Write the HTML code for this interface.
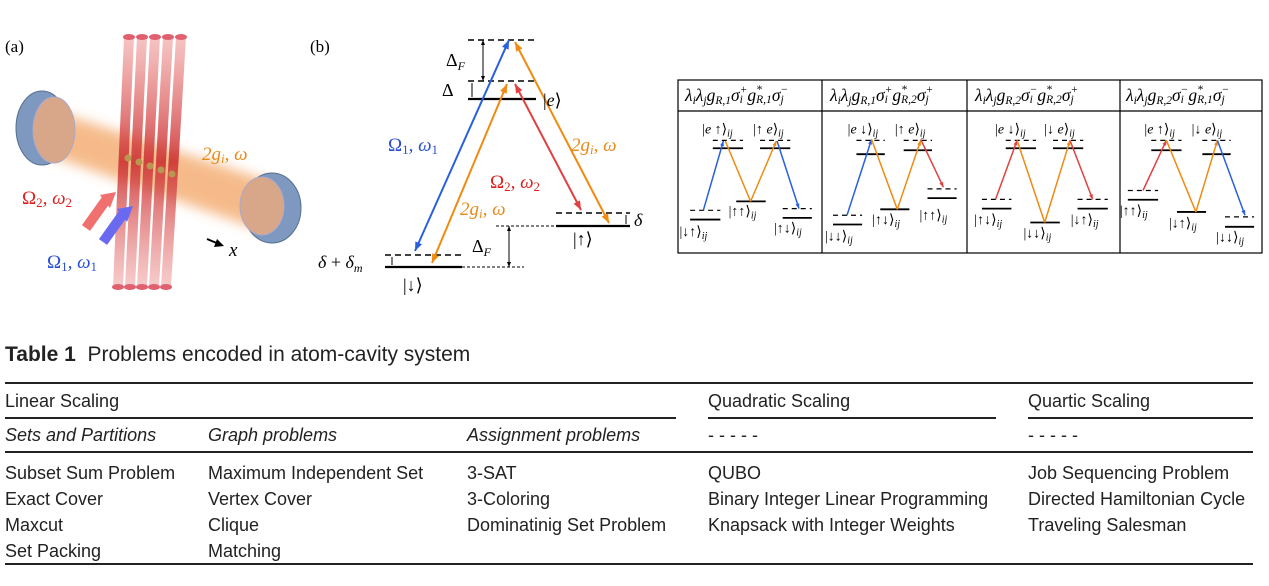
<!DOCTYPE html>
<html><head><meta charset="utf-8"><style>
body{margin:0;width:1269px;height:586px;background:#fff;overflow:hidden;position:relative;font-family:"Liberation Sans",sans-serif;}
.t{position:absolute;font-size:18px;color:#222;white-space:nowrap;line-height:1;}
.i{font-style:italic;}
.r{position:absolute;height:2px;background:#222;}
svg{position:absolute;left:0;top:0;}
.m{font-family:"Liberation Serif","DejaVu Serif",serif;font-style:italic;}
.h{position:absolute;top:87px;font-family:"Liberation Serif",serif;font-style:italic;font-size:17.5px;white-space:nowrap;line-height:1;color:#000;}
.h sub{font-size:11.5px;vertical-align:-3px;}
.ss{display:inline-block;vertical-align:middle;line-height:10px;font-size:11.5px;margin-top:-3px;}
.ss b{display:block;font-weight:normal;}
</style></head><body>
<svg id="s" width="1269" height="330" viewBox="0 0 1269 330">
<defs>
<linearGradient id="tube" x1="0" y1="0" x2="0" y2="1"><stop offset="0" stop-color="#e88" stop-opacity=".5"/><stop offset=".5" stop-color="#c33" stop-opacity=".9"/><stop offset="1" stop-color="#e99" stop-opacity=".5"/></linearGradient>
<filter id="bl"><feGaussianBlur stdDeviation="6"/></filter>
</defs>
<text x="5" y="52" font-family="Liberation Serif" font-size="17">(a)</text>
<text x="310" y="52" font-family="Liberation Serif" font-size="17">(b)</text>
<polygon points="45,108 272,182 266,232 40,152" fill="#f3a463" opacity=".75" filter="url(#bl)"/>
<g id="tubes"></g>
<ellipse cx="42" cy="128" rx="26" ry="37" fill="#7e98bf" stroke="#56708f"/>
<ellipse cx="54" cy="130" rx="21" ry="33" fill="#d8a689" stroke="#aac"/>
<ellipse cx="272" cy="208" rx="29" ry="35" fill="#7e98bf" stroke="#56708f"/>
<ellipse cx="262" cy="206" rx="22" ry="29" fill="#d8a689" stroke="#aac"/>
<line x1="86" y1="228" x2="106" y2="200" stroke="#f07070" stroke-width="10"/><polygon points="100,195 116,192 110,208" fill="#f07070"/>
<line x1="103" y1="242" x2="123" y2="214" stroke="#6a6af0" stroke-width="10"/><polygon points="117,209 133,206 127,222" fill="#6a6af0"/>
<line x1="207" y1="239" x2="219" y2="244" stroke="#000" stroke-width="2"/><polygon points="224,246 214,247 217,239" fill="#000"/>
<text x="229" y="256" class="m" font-size="19">x</text>
<text x="202" y="160" class="m" font-size="19" fill="#e88a1a">2g<tspan font-size="13" dy="3">i</tspan><tspan dy="-3">, ω</tspan></text>
<text x="22" y="204" class="m" font-size="19" fill="#e02020"><tspan font-style="normal">Ω</tspan><tspan font-size="13" dy="3" font-style="normal">2</tspan><tspan dy="-3">, ω</tspan><tspan font-size="13" dy="3" font-style="normal">2</tspan></text>
<text x="47" y="268" class="m" font-size="19" fill="#2a4fd6"><tspan font-style="normal">Ω</tspan><tspan font-size="13" dy="3" font-style="normal">1</tspan><tspan dy="-3">, ω</tspan><tspan font-size="13" dy="3" font-style="normal">1</tspan></text>
<g stroke="#000" stroke-width="1.5" fill="none">
<line x1="468" y1="40" x2="536" y2="40" stroke-dasharray="6,4"/>
<line x1="468" y1="81" x2="536" y2="81" stroke-dasharray="6,4"/>
<line x1="468" y1="99" x2="536" y2="99" stroke-width="2.2"/>
<line x1="385" y1="255" x2="462" y2="255" stroke-dasharray="6,4"/>
<line x1="385" y1="267" x2="462" y2="267" stroke-width="2.2"/>
<line x1="462" y1="267" x2="524" y2="267" stroke-dasharray="3,2" stroke-width="1"/>
<line x1="556" y1="213" x2="630" y2="213" stroke-dasharray="6,4"/>
<line x1="556" y1="226" x2="630" y2="226" stroke-width="2.2"/>
<line x1="496" y1="226" x2="556" y2="226" stroke-dasharray="3,2" stroke-width="1"/>
<line x1="483" y1="42" x2="483" y2="79" stroke-width="1"/>
<line x1="472" y1="83" x2="472" y2="97" stroke-width="1"/>
<line x1="509" y1="228" x2="509" y2="265" stroke-width="1"/>
<line x1="626" y1="215" x2="626" y2="224" stroke-width="1"/>
<line x1="392" y1="257" x2="392" y2="265" stroke-width="1"/>
</g>
<g id="arr"></g>
<text x="446" y="66" class="m" font-size="18"><tspan font-style="normal">Δ</tspan><tspan font-size="12" dy="4">F</tspan></text>
<text x="442" y="96" font-family="Liberation Serif" font-size="18">Δ</text>
<text x="543" y="106" class="m" font-size="18"><tspan font-style="normal">|</tspan>e<tspan font-style="normal">⟩</tspan></text>
<text x="318" y="268" class="m" font-size="18">δ <tspan font-style="normal">+</tspan> δ<tspan font-size="12" dy="4">m</tspan></text>
<text x="403" y="291" font-family="Liberation Serif" font-size="18">|↓⟩</text>
<text x="573" y="245" font-family="Liberation Serif" font-size="18">|↑⟩</text>
<text x="634" y="226" class="m" font-size="18">δ</text>
<text x="472" y="252" class="m" font-size="18"><tspan font-style="normal">Δ</tspan><tspan font-size="12" dy="4">F</tspan></text>
<text x="388" y="151" class="m" font-size="19" fill="#2a4fd6"><tspan font-style="normal">Ω</tspan><tspan font-size="13" dy="3" font-style="normal">1</tspan><tspan dy="-3">, ω</tspan><tspan font-size="13" dy="3" font-style="normal">1</tspan></text>
<text x="571" y="151" class="m" font-size="19" fill="#e88a1a">2g<tspan font-size="13" dy="3">i</tspan><tspan dy="-3">, ω</tspan></text>
<text x="490" y="188" class="m" font-size="19" fill="#e02020"><tspan font-style="normal">Ω</tspan><tspan font-size="13" dy="3" font-style="normal">2</tspan><tspan dy="-3">, ω</tspan><tspan font-size="13" dy="3" font-style="normal">2</tspan></text>
<text x="460" y="215" class="m" font-size="19" fill="#e88a1a">2g<tspan font-size="13" dy="3">i</tspan><tspan dy="-3">, ω</tspan></text>
<rect x="678" y="80" width="584" height="173" fill="none" stroke="#000" stroke-width="1.2"/>
<line x1="678" y1="111" x2="1262" y2="111" stroke="#000" stroke-width="1.2"/>
<line x1="822" y1="80" x2="822" y2="253" stroke="#000" stroke-width="1.2"/>
<line x1="967" y1="80" x2="967" y2="253" stroke="#000" stroke-width="1.2"/>
<line x1="1120" y1="80" x2="1120" y2="253" stroke="#000" stroke-width="1.2"/>
<g id="rt"></g>
</svg>

<div class="h" style="left:685px;">λ<sub>i</sub>λ<sub>j</sub>g<sub>R,1</sub>σ<span class="ss"><b>+</b><b>i</b></span>g<span class="ss"><b>*</b><b>R,1</b></span>σ<span class="ss"><b>−</b><b>j</b></span></div>
<div class="h" style="left:830px;">λ<sub>i</sub>λ<sub>j</sub>g<sub>R,1</sub>σ<span class="ss"><b>+</b><b>i</b></span>g<span class="ss"><b>*</b><b>R,2</b></span>σ<span class="ss"><b>+</b><b>j</b></span></div>
<div class="h" style="left:975px;">λ<sub>i</sub>λ<sub>j</sub>g<sub>R,2</sub>σ<span class="ss"><b>−</b><b>i</b></span>g<span class="ss"><b>*</b><b>R,2</b></span>σ<span class="ss"><b>+</b><b>j</b></span></div>
<div class="h" style="left:1126px;">λ<sub>i</sub>λ<sub>j</sub>g<sub>R,2</sub>σ<span class="ss"><b>−</b><b>i</b></span>g<span class="ss"><b>*</b><b>R,1</b></span>σ<span class="ss"><b>−</b><b>j</b></span></div>

<div class="t" style="left:5px;top:344px;font-size:21px;"><b>Table 1</b>&nbsp; Problems encoded in atom-cavity system</div>
<div class="r" style="left:5px;width:1248px;top:382px;"></div>
<div class="t" style="left:5px;top:392px;">Linear Scaling</div>
<div class="t" style="left:708px;top:392px;">Quadratic Scaling</div>
<div class="t" style="left:1028px;top:392px;">Quartic Scaling</div>
<div class="r" style="left:5px;width:671px;top:417px;height:1.5px;"></div>
<div class="r" style="left:708px;width:288px;top:417px;height:1.5px;"></div>
<div class="r" style="left:1028px;width:225px;top:417px;height:1.5px;"></div>
<div class="t i" style="left:5px;top:426px;">Sets and Partitions</div>
<div class="t i" style="left:208px;top:426px;">Graph problems</div>
<div class="t i" style="left:467px;top:426px;">Assignment problems</div>
<div class="t" style="left:708px;top:426px;">- - - - -</div>
<div class="t" style="left:1028px;top:426px;">- - - - -</div>
<div class="r" style="left:5px;width:1248px;top:451px;height:1.5px;"></div>
<div class="t" style="left:5px;top:460px;line-height:26px;">Subset Sum Problem<br>Exact Cover<br>Maxcut<br>Set Packing</div>
<div class="t" style="left:208px;top:460px;line-height:26px;">Maximum Independent Set<br>Vertex Cover<br>Clique<br>Matching</div>
<div class="t" style="left:467px;top:460px;line-height:26px;">3-SAT<br>3-Coloring<br>Dominatinig Set Problem</div>
<div class="t" style="left:708px;top:460px;line-height:26px;">QUBO<br>Binary Integer Linear Programming<br>Knapsack with Integer Weights</div>
<div class="t" style="left:1028px;top:460px;line-height:26px;">Job Sequencing Problem<br>Directed Hamiltonian Cycle<br>Traveling Salesman</div>
<div class="r" style="left:5px;width:1248px;top:563px;"></div>

<script>
var NS="http://www.w3.org/2000/svg";
function el(p,t,a,txt){var e=document.createElementNS(NS,t);for(var k in a)e.setAttribute(k,a[k]);if(txt)e.textContent=txt;p.appendChild(e);return e;}
var tg=document.getElementById("tubes");
for(var i=0;i<5;i++){var xt=124+i*13,xb=113+i*12;
el(tg,"polygon",{points:(xt)+",37 "+(xt+10)+",37 "+(xb+10)+",287 "+(xb)+",287",fill:"url(#tube)"});
el(tg,"ellipse",{cx:xt+5,cy:37,rx:6,ry:3,fill:"#e06070"});
el(tg,"ellipse",{cx:xb+5,cy:287,rx:6,ry:3,fill:"#e06070"});}
for(var i=0;i<5;i++){el(tg,"circle",{cx:128+i*11,cy:158+i*4,r:3.5,fill:"#b89850"});}
function arrow(g,x1,y1,x2,y2,c,w,h,both){
 el(g,"line",{x1:x1,y1:y1,x2:x2,y2:y2,stroke:c,"stroke-width":w});
 function head(ax,ay,bx,by){var dx=bx-ax,dy=by-ay,L=Math.hypot(dx,dy);dx/=L;dy/=L;
  var px=-dy,py=dx;el(g,"polygon",{points:bx+","+by+" "+(bx-dx*h+px*h*0.4)+","+(by-dy*h+py*h*0.4)+" "+(bx-dx*h-px*h*0.4)+","+(by-dy*h-py*h*0.4),fill:c});}
 head(x1,y1,x2,y2); if(both)head(x2,y2,x1,y1);}
var ag=document.getElementById("arr");
arrow(ag,509,40,415,251,"#2a5fe0",2,9,true);
arrow(ag,515,42,609,223,"#f08a10",2,9,true);
arrow(ag,507,84,432,263,"#f08a10",2,9,true);
arrow(ag,515,84,581,210,"#e04040",2,9,true);
arrow(ag,483,45,483,40,"#000",1,5,false);arrow(ag,483,76,483,81,"#000",1,5,false);
arrow(ag,509,231,509,226,"#000",1,5,false);arrow(ag,509,262,509,267,"#000",1,5,false);
var rt=document.getElementById("rt");
function P(x,y){return [675+0.378*x,75+0.33*y];}
function lvl(x1,x2,y,d){var a=P(x1,y),b=P(x2,y);el(rt,"line",{x1:a[0],y1:a[1],x2:b[0],y2:b[1],stroke:"#000","stroke-width":d?1.2:1.8,"stroke-dasharray":d?"5,4":"none"});}
function ar(x1,y1,x2,y2,c){var a=P(x1,y1),b=P(x2,y2);arrow(rt,a[0],a[1],b[0],b[1],c,1.5,5,false);}
function ln(x1,y1,x2,y2,c){var a=P(x1,y1),b=P(x2,y2);el(rt,"line",{x1:a[0],y1:a[1],x2:b[0],y2:b[1],stroke:c,"stroke-width":1.5});}
function lab(x,y,s){var a=P(x,y);var t=el(rt,"text",{x:a[0]-22,y:a[1]+4,"font-family":"Liberation Serif","font-size":14});
 t.innerHTML=s+'<tspan font-size="10" dy="3" font-style="italic">ij</tspan>';}
var B="#2a5fe0",O="#f08a10",R="#e04040";
lvl(100,180,198,1);lvl(225,305,198,1);lvl(100,180,222);lvl(225,305,222);
lvl(40,120,410,1);lvl(40,120,438);lvl(162,240,383);lvl(285,362,405,1);lvl(285,362,433);
ar(75,410,128,200,B);ln(133,200,200,383,O);ar(200,383,268,200,O);ar(270,200,328,405,B);
lab(130,165,"|<tspan font-style='italic'>e</tspan> ↑⟩");lab(265,165,"|↑ <tspan font-style='italic'>e</tspan>⟩");
lab(200,413,"|↑↑⟩");lab(70,475,"|↓↑⟩");lab(320,465,"|↑↓⟩");
lvl(480,555,198,1);lvl(605,680,198,1);lvl(480,555,240);lvl(605,680,228);
lvl(418,495,425,1);lvl(418,495,453);lvl(543,620,407);lvl(668,745,345,1);lvl(668,745,373);
ar(455,425,520,195,B);ln(520,195,588,407,O);ar(588,407,650,198,O);ar(650,195,710,340,R);
lab(515,165,"|<tspan font-style='italic'>e</tspan> ↓⟩");lab(640,165,"|↑ <tspan font-style='italic'>e</tspan>⟩");
lab(455,490,"|↓↓⟩");lab(580,440,"|↑↓⟩");lab(705,425,"|↑↑⟩");
lvl(875,955,198,1);lvl(1000,1080,198,1);lvl(875,955,222);lvl(1000,1080,222);
lvl(812,890,377,1);lvl(812,890,405);lvl(940,1018,447);lvl(1065,1145,377,1);lvl(1065,1145,405);
ar(848,377,905,198,R);ln(905,198,978,447,O);ar(978,447,1045,198,O);ar(1045,198,1105,377,R);
lab(905,165,"|<tspan font-style='italic'>e</tspan> ↓⟩");lab(1035,165,"|↓ <tspan font-style='italic'>e</tspan>⟩");
lab(850,440,"|↑↓⟩");lab(980,480,"|↓↓⟩");lab(1105,440,"|↓↑⟩");
lvl(1260,1340,198,1);lvl(1395,1470,198,1);lvl(1260,1340,228);lvl(1395,1470,240);
lvl(1198,1278,350,1);lvl(1198,1278,378);lvl(1328,1405,415);lvl(1455,1532,430,1);lvl(1455,1532,460);
ar(1238,350,1300,198,R);ln(1300,198,1378,415,O);ar(1378,415,1435,198,O);ar(1435,198,1508,425,B);
lab(1300,165,"|<tspan font-style='italic'>e</tspan> ↑⟩");lab(1425,165,"|↓ <tspan font-style='italic'>e</tspan>⟩");
lab(1235,412,"|↑↑⟩");lab(1365,450,"|↓↑⟩");lab(1490,492,"|↓↓⟩");
</script>
</body></html>
